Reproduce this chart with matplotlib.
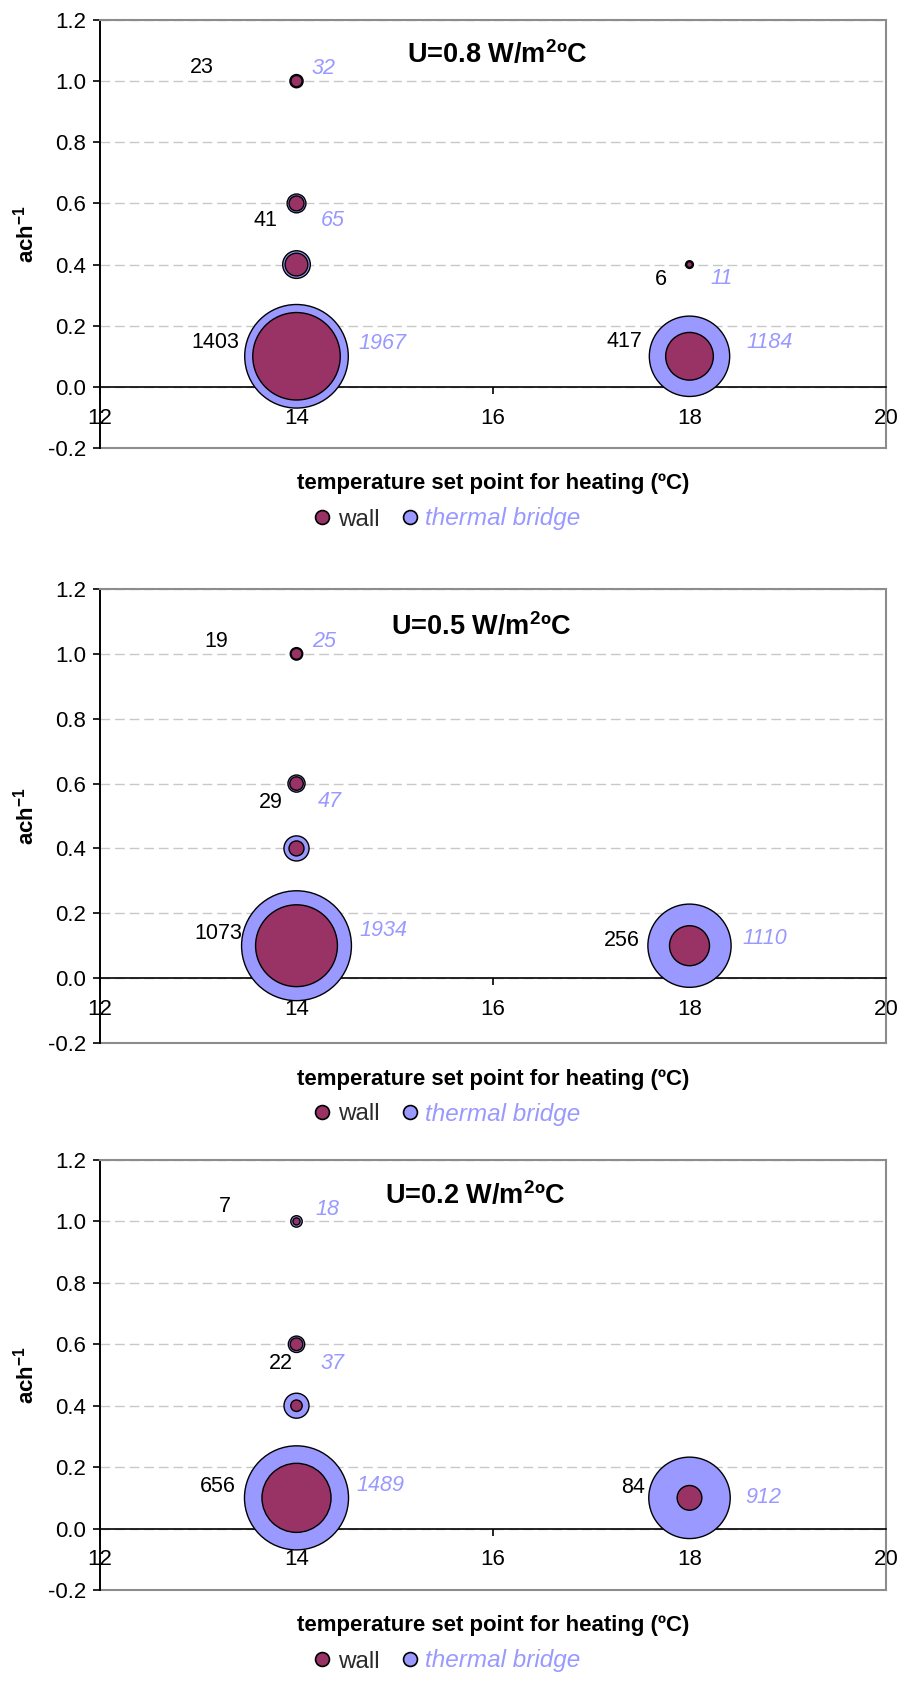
import matplotlib
matplotlib.use('Agg')
import matplotlib.pyplot as plt
from matplotlib.lines import Line2D
import numpy as np

plt.rcParams['font.family'] = ['Liberation Sans', 'DejaVu Sans']
plt.rcParams['mathtext.fontset'] = 'custom'
plt.rcParams['mathtext.rm'] = 'Liberation Sans'
plt.rcParams['mathtext.bf'] = 'Liberation Sans:bold'

# ---- data ----
u_values = ['0.8', '0.5', '0.2']

temp_1 = [14, 14, 14, 14, 18, 18]
ach_1 = [1.0, 0.6, 0.4, 0.1, 0.4, 0.1]
wall_1 = [23, 41, 95, 1403, 6, 417]
bridge_1 = [32, 65, 140, 1967, 11, 1184]
shown_1 = [True, True, False, True, True, True]

temp_2 = [14, 14, 14, 14, 18]
ach_2 = [1.0, 0.6, 0.4, 0.1, 0.1]
wall_2 = [19, 29, 36, 1073, 256]
bridge_2 = [25, 47, 101, 1934, 1110]
shown_2 = [True, True, False, True, True]

temp_3 = [14, 14, 14, 14, 18]
ach_3 = [1.0, 0.6, 0.4, 0.1, 0.1]
wall_3 = [7, 22, 18, 656, 84]
bridge_3 = [18, 37, 86, 1489, 912]
shown_3 = [True, True, False, True, True]

x_ticks = [12, 14, 16, 18, 20]
y_ticks = [-0.2, 0.0, 0.2, 0.4, 0.6, 0.8, 1.0, 1.2]

WALL = '#993366'
BRIDGE = '#9999FF'
DPI = 100

# ---- layout (pixels from top of a 901x1684 figure) ----
panels = [
    dict(top=20, bottom=448, title_x=0.39,
         temp=temp_1, ach=ach_1, wall=wall_1, bridge=bridge_1, shown=shown_1,
         # label offsets (px) from bubble centre: wall, bridge
         offs=[((-95, -14), (27, -13)), ((-31, 17), (36, 17)), None,
               ((-81, -14), (86, -13)), ((-29, 15), (32, 14)),
               ((-65, -15), (80, -14))]),
    dict(top=589, bottom=1043, title_x=0.37,
         temp=temp_2, ach=ach_2, wall=wall_2, bridge=bridge_2, shown=shown_2,
         offs=[((-80, -12), (28, -12)), ((-26, 19), (33, 18)), None,
               ((-78, -12), (87, -15)), ((-68, -5), (75, -7))]),
    dict(top=1160, bottom=1590, title_x=0.363,
         temp=temp_3, ach=ach_3, wall=wall_3, bridge=bridge_3, shown=shown_3,
         offs=[((-72, -15), (31, -12)), ((-16, 19), (36, 19)), None,
               ((-79, -11), (84, -12)), ((-56, -10), (74, 0))]),
]

W, H = 901, 1684
fig = plt.figure(figsize=(W / DPI, H / DPI), dpi=DPI)

for p, u in zip(panels, u_values):
    h_px = p['bottom'] - p['top']
    ax = fig.add_axes([100 / W, (H - p['bottom']) / H, 786 / W, h_px / H])
    ax.set_xlim(12, 20)
    ax.set_ylim(-0.2, 1.2)

    # bubble size: largest bubble diameter ~ quarter of plot height
    vmax = max(max(p['wall']), max(p['bridge']))
    r_max = 0.121 * h_px

    def sizes(vals):
        r = r_max * np.sqrt(np.array(vals, dtype=float) / vmax)
        return (2 * r * 72 / DPI) ** 2

    ax.scatter(p['temp'], p['ach'], s=sizes(p['bridge']), color=BRIDGE,
               edgecolor='black', linewidth=1.0, zorder=3, clip_on=False)
    ax.scatter(p['temp'], p['ach'], s=sizes(p['wall']), color=WALL,
               edgecolor='black', linewidth=1.0, zorder=4, clip_on=False)

    for i, (x, y) in enumerate(zip(p['temp'], p['ach'])):
        if not p['shown'][i]:
            continue
        (wx, wy), (bx, by) = p['offs'][i]
        ax.annotate(str(p['wall'][i]), (x, y), xytext=(wx * 0.72, -wy * 0.72),
                    textcoords='offset points', ha='center', va='center',
                    fontsize=15.5, color='black', zorder=5)
        ax.annotate(str(p['bridge'][i]), (x, y), xytext=(bx * 0.72, -by * 0.72),
                    textcoords='offset points', ha='center', va='center',
                    fontsize=15.5, color=BRIDGE, style='italic', zorder=5)

    # title inside plot
    ax.text(p['title_x'], 0.918, 'U=' + u + r' W/m$^{\mathbf{2}}$ºC',
            transform=ax.transAxes, ha='left', va='center', fontsize=19.5,
            fontweight='bold')

    # axes look (Excel style)
    ax.spines['bottom'].set_position(('data', 0))
    ax.spines['bottom'].set_color('black')
    ax.spines['bottom'].set_linewidth(1.2)
    ax.spines['left'].set_color('black')
    ax.spines['left'].set_linewidth(1.4)
    for s in ['top', 'right']:
        ax.spines[s].set_color('#8c8c8c')
        ax.spines[s].set_linewidth(1.5)
    ax.axhline(-0.2, color='#8c8c8c', linewidth=1.5, clip_on=False, zorder=2)

    ax.set_xticks(x_ticks)
    ax.set_yticks(y_ticks)
    ax.set_yticklabels(['%.1f' % v for v in y_ticks])
    ax.tick_params(axis='both', direction='out', length=5, width=1.2,
                   labelsize=16, colors='black')
    ax.tick_params(axis='x', pad=10)
    ax.tick_params(axis='y', pad=5)

    ax.yaxis.grid(True, color='#c8c8c8', linestyle=(0, (7, 3.5)), linewidth=1.0)
    ax.set_axisbelow(True)

    ax.set_ylabel(r'ach$^{\mathbf{-1}}$', fontsize=16, fontweight='bold')
    ax.yaxis.set_label_coords(-74 / 786, 0.5)
    ax.yaxis.label.set_va('center')

    ax.set_xlabel('temperature set point for heating (ºC)', fontsize=16,
                  fontweight='bold')
    ax.xaxis.set_label_coords(0.5, -36 / h_px)
    ax.xaxis.label.set_va('center')

    handles = [
        Line2D([], [], marker='o', linestyle='none', markersize=10,
               markerfacecolor=WALL, markeredgecolor='black', markeredgewidth=1.2),
        Line2D([], [], marker='o', linestyle='none', markersize=10,
               markerfacecolor=BRIDGE, markeredgecolor='black', markeredgewidth=1.2),
    ]
    leg = ax.legend(handles, ['wall', 'thermal bridge'], ncol=2, frameon=False,
                    loc='center', bbox_to_anchor=(347 / 786, -71 / h_px),
                    fontsize=17.5, handlelength=0.7, handletextpad=0.3,
                    columnspacing=0.9, borderpad=0)
    texts = leg.get_texts()
    texts[0].set_color('#2b2b2b')
    texts[1].set_color(BRIDGE)
    texts[1].set_style('italic')

fig.savefig('out.png', dpi=DPI)
